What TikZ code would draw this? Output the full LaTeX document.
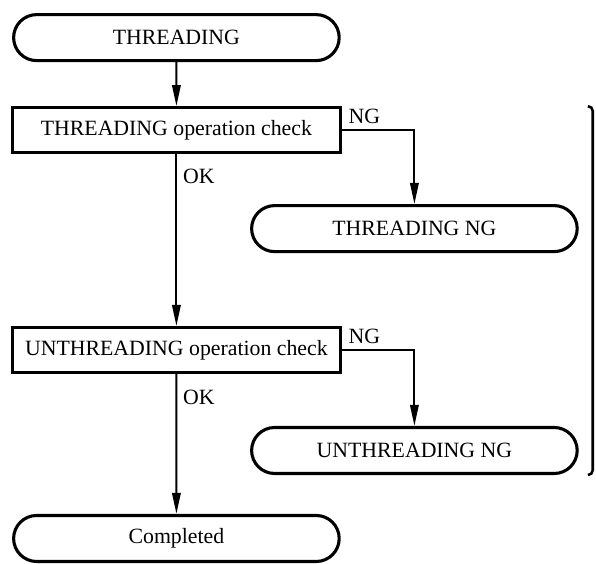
\documentclass[tikz,border=0pt]{standalone}
\usepackage{fontspec}
\setmainfont{Liberation Serif}
\usepackage{tikz}
\usetikzlibrary{positioning,arrows.meta,shapes.misc,calc}

\begin{document}
\begin{tikzpicture}[
node distance=12mm and 6mm,
term/.style={rounded rectangle,draw,line width=2.2pt,minimum width=8.28cm,minimum height=1.15cm,inner sep=2pt,font=\fontsize{15.5}{18}\selectfont},
chk/.style={rectangle,draw,line width=2.2pt,minimum width=8.2cm,minimum height=1.12cm,inner sep=2pt,font=\fontsize{15.5}{18}\selectfont},
lbl/.style={font=\fontsize{15.5}{18}\selectfont,inner sep=4pt},
arrow/.style={-{Triangle[length=15pt,width=6pt]},line width=1.5pt},
brk/.style={line width=1.8pt}
]
\useasboundingbox (0,0) rectangle (14.9,-14.075);
\node[term] (thr) at (4.41,-0.94) {THREADING};
\node[chk,below=1.1cm of thr] (thc) {THREADING operation check};
\node[term,below=1.25cm of thc,xshift=5.95cm] (thng) {THREADING NG};
\node[chk,below=4.3cm of thc] (unc) {UNTHREADING operation check};
\node[term,below=1.3cm of unc,xshift=5.95cm] (unng) {UNTHREADING NG};
\node[term,below=3.5cm of unc] (done) {Completed};
\coordinate (brt) at ($(thng.east |- thc.north)+(0.35,0)$);
\coordinate (brb) at ($(unng.east |- unng.south)+(0.35,0)$);
\draw[arrow] (thr)--(thc);
\draw[arrow] (thc)--node[lbl,pos=0.13,right]{OK}(unc);
\draw[arrow] (unc)--node[lbl,pos=0.17,right]{OK}(done);
\draw[arrow] (thc.east) node[lbl,above right]{NG} -| (thng.north);
\draw[arrow] (unc.east) node[lbl,above right]{NG} -| (unng.north);
\draw[brk] ($(brt)+(-0.12,0)$) to[out=0,in=90] ($(brt)+(0,-0.12)$) -- ($(brb)+(0,0.12)$) to[out=-90,in=0] ($(brb)+(-0.12,0)$);
\end{tikzpicture}
\end{document}
